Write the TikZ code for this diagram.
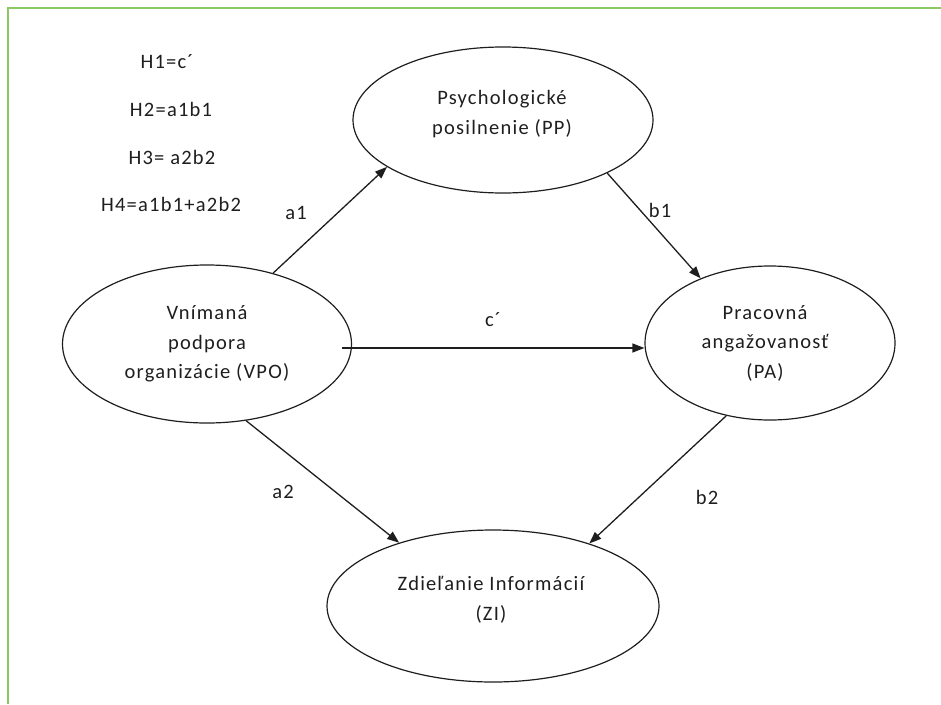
\documentclass[tikz,border=0pt]{standalone}
\usepackage{fontspec}
\setmainfont{Carlito}[LetterSpace=6]
\usetikzlibrary{shapes.geometric,arrows.meta}
\definecolor{frame}{RGB}{140,200,100}
\definecolor{ink}{RGB}{30,30,30}
\tikzset{
  construct/.style={ellipse, draw=ink, line width=1.2pt, inner sep=0pt},
  ctext/.style={align=center, text=ink, font=\fontsize{20.5}{29.5}\selectfont},
  path label/.style={text=ink, font=\fontsize{20.5}{24}\selectfont},
  hyp/.style={text=ink, font=\fontsize{20.5}{24}\selectfont},
  arr/.style={draw=ink, line width=1.3pt, -{Triangle[length=12pt,width=9pt]}}
}
\begin{document}
\begin{tikzpicture}[x=1pt,y=-1pt]
\useasboundingbox (0,0) rectangle (941,704);
% frame (left and top sides)
\draw[frame, line width=2pt] (8,704) -- (8,8) -- (941,8);

% hypotheses
\node[hyp] (h1) at (167,62) {H1=c´};
\node[hyp] (h2) at (171,109) {H2=a1b1};
\node[hyp] (h3) at (172,157) {H3= a2b2};
\node[hyp] (h4) at (171,204) {H4=a1b1+a2b2};

% constructs
\node[construct, minimum width=300pt, minimum height=146pt] (pp) at (503,120) {};
\node[ctext] (pptxt) at (502,114) {Psychologické\\posilnenie (PP)};

\node[construct, minimum width=289pt, minimum height=158pt] (vpo) at (207,344) {};
\node[ctext] (vpotxt) at (207,344) {Vnímaná\\podpora\\organizácie (VPO)};

\node[construct, minimum width=250pt, minimum height=154pt] (pa) at (770,343) {};
\node[ctext] (patxt) at (765,343) {Pracovná\\angažovanosť\\(PA)};

\node[construct, minimum width=332pt, minimum height=152pt] (zi) at (493,606) {};
\node[ctext] (zitxt) at (491,600) {Zdieľanie Informácií\\(ZI)};

% paths
\draw[arr] (vpo.47) -- (pp.202.5);
\draw[arr] (pp.-27) -- (pa.137);
\coordinate (cs) at ([xshift=-10pt,yshift=-4pt]vpo.east);
\draw[arr] (cs) -- (cs -| pa.west);
\draw[arr] (vpo.-63) -- (zi.146.6);
\draw[arr] (pa.239) -- (zi.33.2);

% path labels
\node[path label] (la1) at (296,213) {a1};
\node[path label] (lb1) at (660,210) {b1};
\node[path label] (lc) at (493,320) {c´};
\node[path label] (la2) at (283,492) {a2};
\node[path label] (lb2) at (707,497) {b2};
\end{tikzpicture}
\end{document}
